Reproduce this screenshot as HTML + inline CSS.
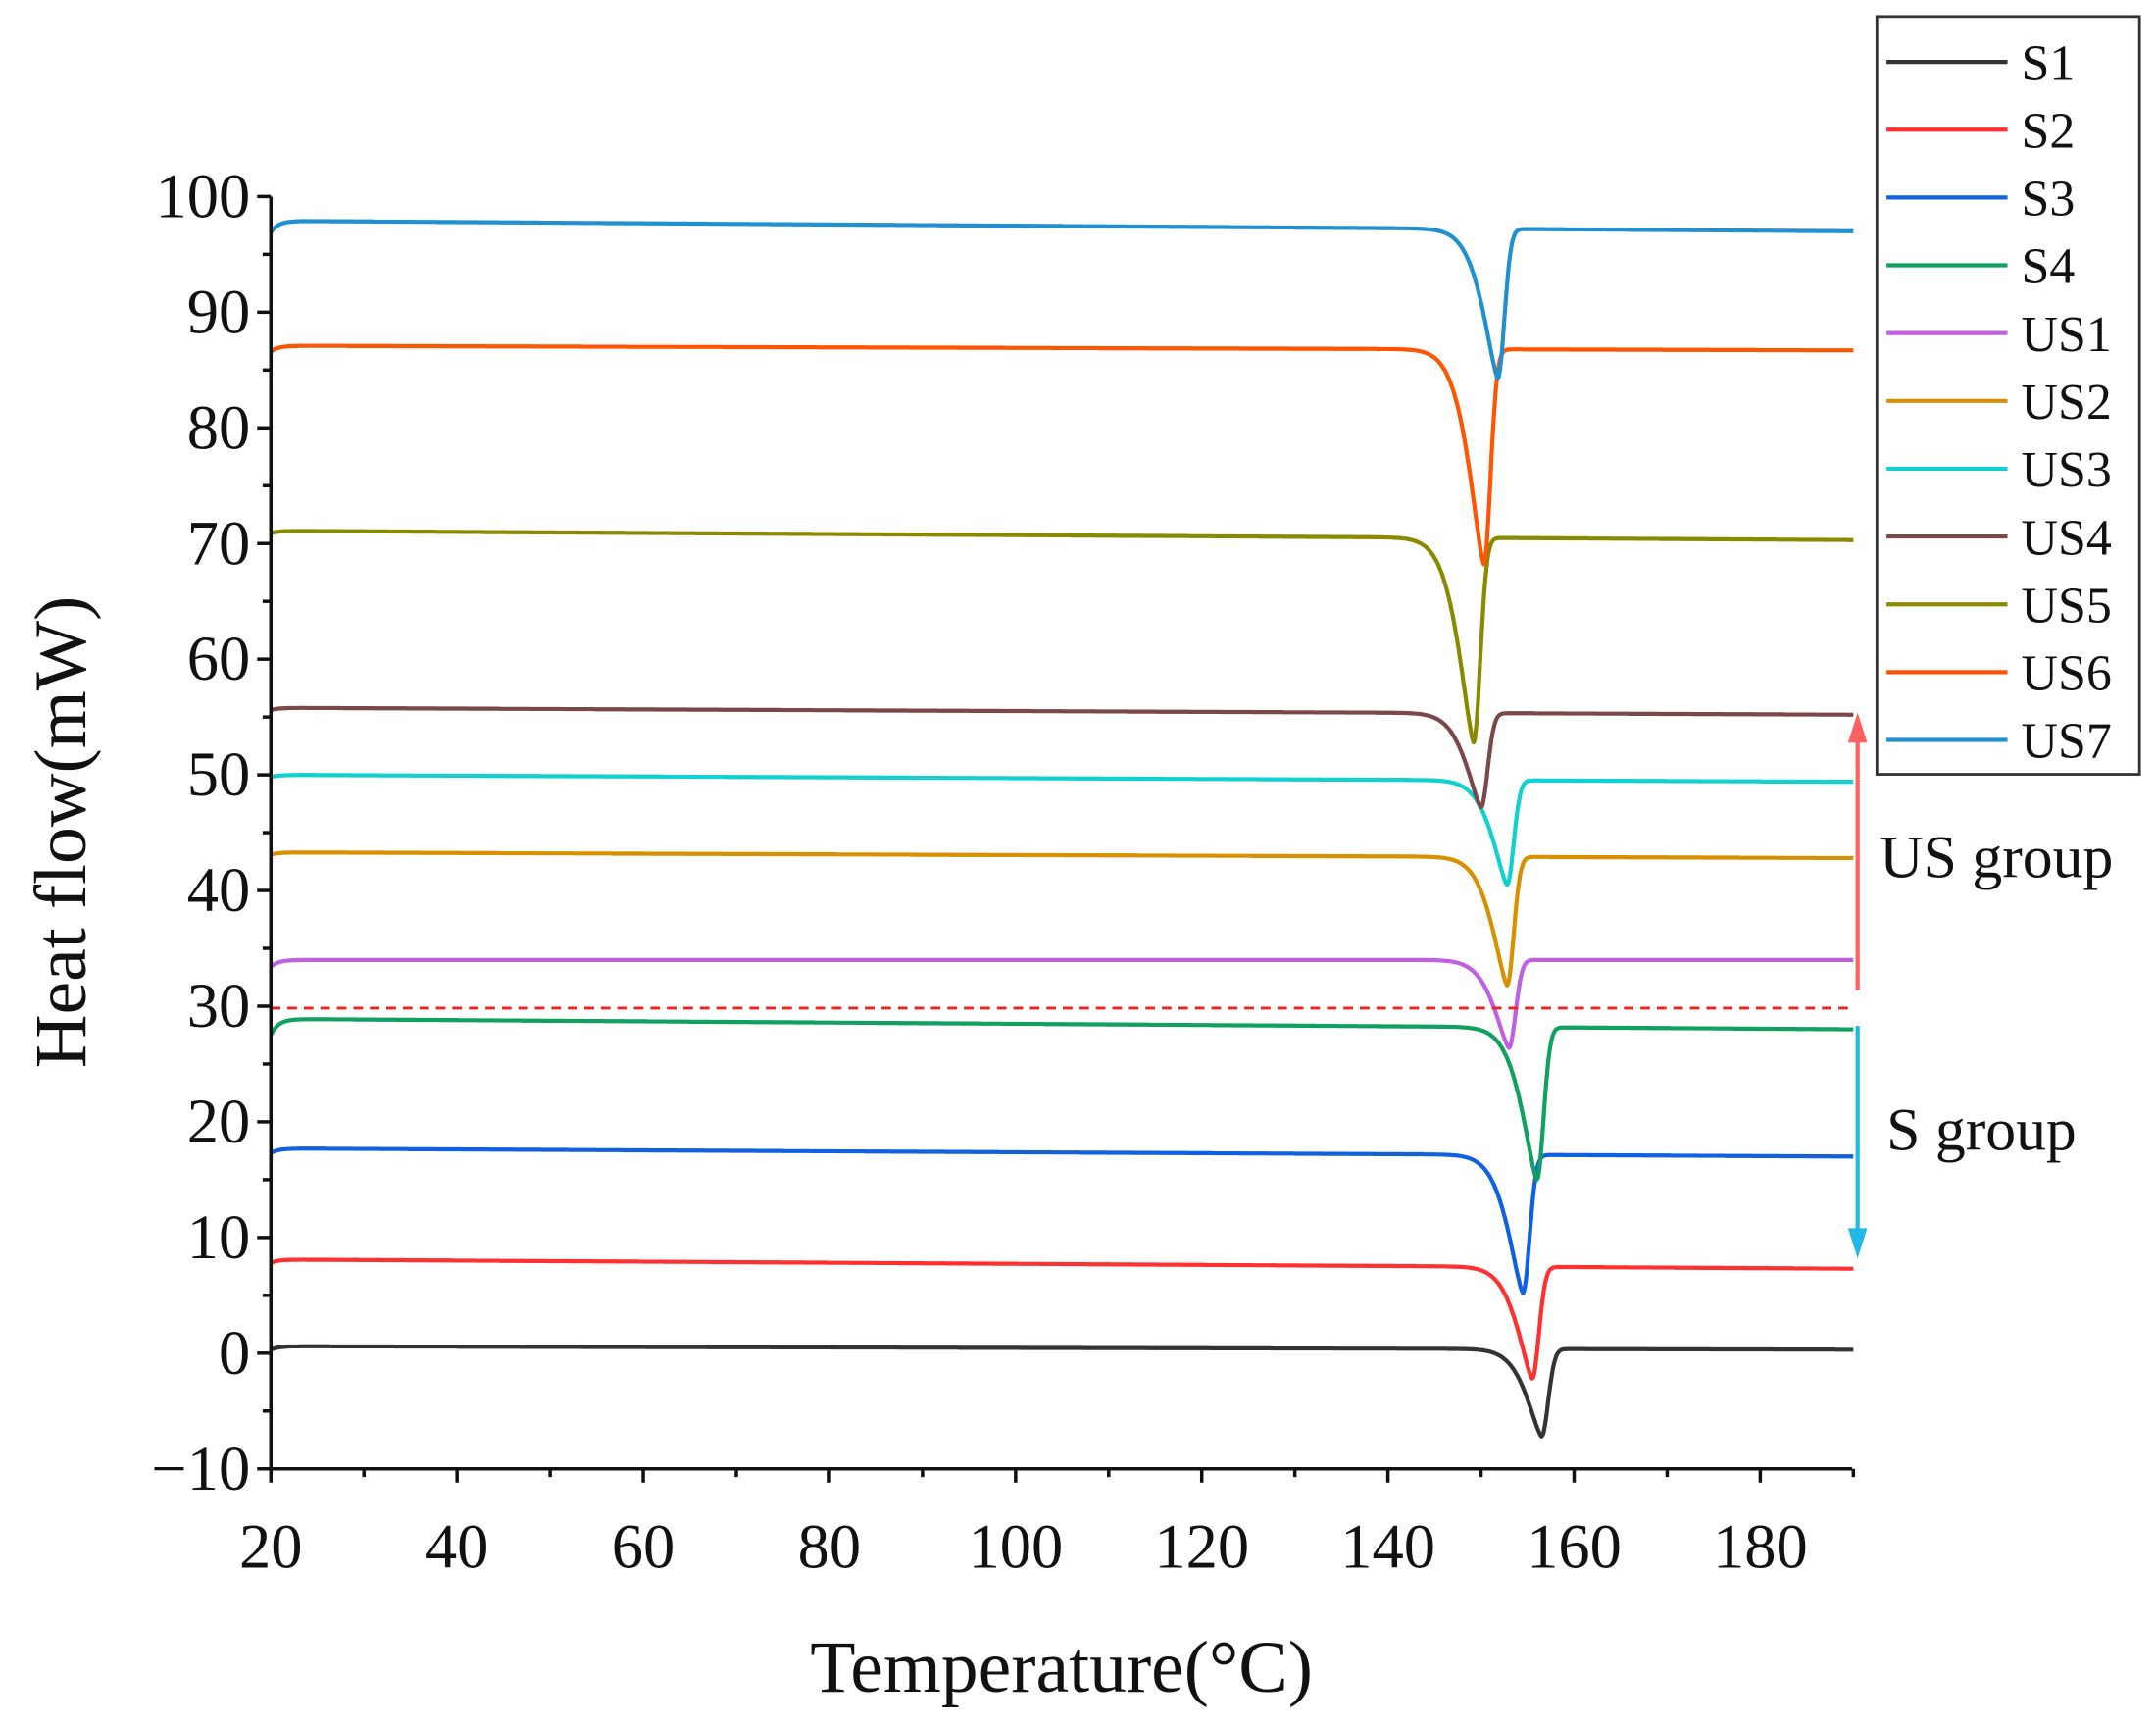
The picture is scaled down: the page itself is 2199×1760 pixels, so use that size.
<!DOCTYPE html>
<html><head><meta charset="utf-8"><style>
html,body{margin:0;padding:0;background:#fff;}
svg{display:block;}
text{font-family:"Liberation Serif",serif;fill:#111;}
</style></head><body>
<svg id="c" width="2199" height="1760" viewBox="0 0 1568 1255" preserveAspectRatio="none" xmlns="http://www.w3.org/2000/svg">
<rect width="1568" height="1255" fill="#fff"/>
<g id="series" fill="none" stroke-width="3" stroke-linejoin="round"></g>
<line x1="197" y1="733" x2="1347" y2="733" stroke="#f02020" stroke-width="2" stroke-dasharray="7,5"/>
<g id="axes" stroke="#111" stroke-width="2.5"></g>
<g id="labels" font-size="46"></g>
<text x="772" y="1230" font-size="54" text-anchor="middle">Temperature(°C)</text>
<text transform="translate(62,605) rotate(-90)" font-size="54" text-anchor="middle">Heat flow(mW)</text>
<line x1="1351" y1="720" x2="1351" y2="535" stroke="#ff6060" stroke-width="3"/>
<polygon points="1351,518 1344,540 1358,540" fill="#ff6060"/>
<line x1="1351" y1="746" x2="1351" y2="898" stroke="#20b8e8" stroke-width="3"/>
<polygon points="1351,915 1344,893 1358,893" fill="#20b8e8"/>
<text x="1367" y="638" font-size="44">US group</text>
<text x="1372" y="836" font-size="44">S group</text>
<rect x="1365" y="12" width="191" height="551" fill="#fff" stroke="#333" stroke-width="2"/>
<g id="legend" font-size="37"></g>
</svg>
<script>
var X=function(T){return 197+(T-20)*6.77;};
var Y=function(v){return 1068-(v+10)*8.41;};
var S=[
["S1","#333333",0.6,0.3,156.5,-7.2,-0.3],
["S2","#ff3030",8.1,7.3,155.5,-2.2,-0.3],
["S3","#1060e0",17.7,17.0,154.5,5.2,-0.4],
["S4","#10a060",28.9,28.0,156.0,15.0,-1.4],
["US1","#c060e0",34.0,34.0,153.0,26.4,-0.6],
["US2","#d89000",43.3,42.8,152.8,31.8,-0.2],
["US3","#10d0d0",50.0,49.4,152.8,40.5,-0.2],
["US4","#7a4848",55.8,55.2,150.0,47.2,-0.2],
["US5","#8a8a00",71.1,70.3,149.2,52.8,-0.2],
["US6","#ff5500",87.1,86.7,150.3,68.2,-0.5],
["US7","#2090d0",97.9,97.0,151.8,84.3,-1.0]];
var g=document.getElementById('series'),ns="http://www.w3.org/2000/svg";
S.forEach(function(s){
 var d="";
 for(var T=20;T<=190;T+=0.1){
  var b=s[2]+(s[3]-s[2])*(T-20)/170;
  var depth=b-s[5];var v;
  var dt=T-s[4];
  if(dt<0){v=b-depth*Math.exp(-Math.pow(-dt/2.3,1.4));}
  else{v=b-depth*Math.exp(-Math.pow(dt/1.0,2));}
  v+=s[6]*Math.exp(-(T-20)/0.8);
  d+=(d?"L":"M")+X(T).toFixed(1)+","+Y(v).toFixed(1);
 }
 var p=document.createElementNS(ns,"path");p.setAttribute("d",d);p.setAttribute("stroke",s[1]);g.appendChild(p);
});
var a=document.getElementById('axes'),L=document.getElementById('labels');
function ln(x1,y1,x2,y2){var l=document.createElementNS(ns,"line");l.setAttribute("x1",x1);l.setAttribute("y1",y1);l.setAttribute("x2",x2);l.setAttribute("y2",y2);a.appendChild(l);}
function tx(x,y,t,anc,par,fs){var e=document.createElementNS(ns,"text");e.setAttribute("x",x);e.setAttribute("y",y);e.setAttribute("text-anchor",anc);if(fs)e.setAttribute("font-size",fs);e.textContent=t;par.appendChild(e);}
ln(197,143,197,1069);ln(196,1068,1347,1068);
for(var v=-10;v<=100;v+=5){var y=Y(v);var maj=v%10==0;ln(maj?187:191,y,197,y);if(maj)tx(182,y+15,v<0?"\u221210":String(v),"end",L);}
for(var T=20;T<=190;T+=10){var x=X(T);var maj=T%20==0;ln(x,1068,x,maj?1078:1074);if(maj)tx(x,1140,String(T),"middle",L);}
var lg=document.getElementById('legend');
S.forEach(function(s,i){var y=45+i*49.3;var l=document.createElementNS(ns,"line");l.setAttribute("x1",1372);l.setAttribute("x2",1460);l.setAttribute("y1",y);l.setAttribute("y2",y);l.setAttribute("stroke",s[1]);l.setAttribute("stroke-width",3);lg.appendChild(l);tx(1470,y+13,s[0],"start",lg);});
</script>
</body></html>
